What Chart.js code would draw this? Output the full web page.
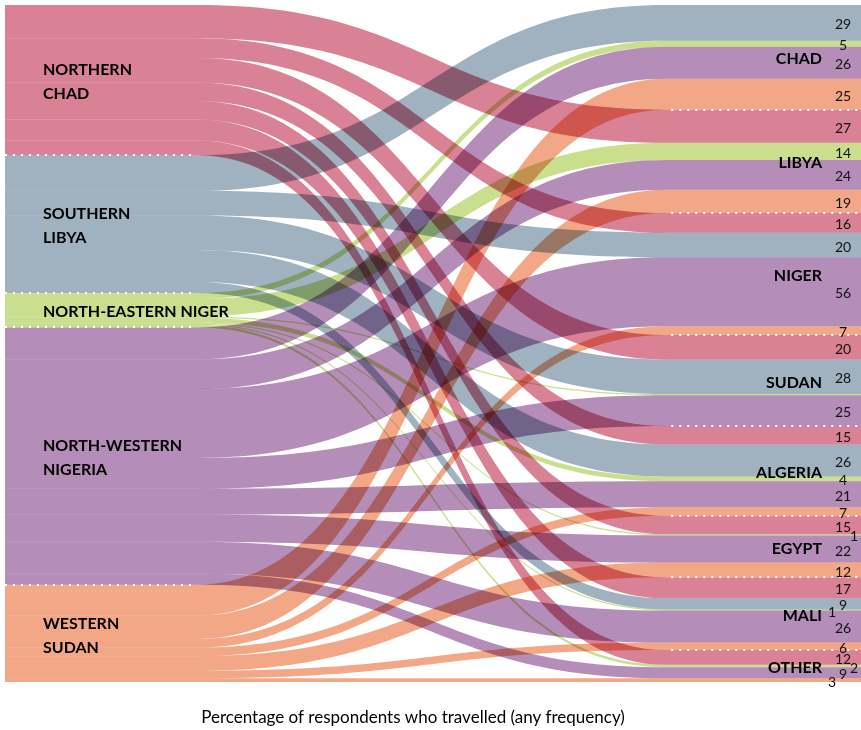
<!DOCTYPE html>
<html><head><meta charset="utf-8">
<script src="https://cdn.jsdelivr.net/npm/chart.js@4"></script>
<style>html,body{margin:0;padding:0;background:#fff}#wrap{width:861px;height:730px}</style>
</head><body><div id="wrap"><canvas id="c" width="861" height="730"></canvas></div>
<script>
// ---- DATA (percentage of respondents from each origin who travelled to each destination) ----
const destinations = ['CHAD', 'LIBYA', 'NIGER', 'SUDAN', 'ALGERIA', 'EGYPT', 'MALI', 'OTHER'];
const sourceLabels = [['NORTHERN', 'CHAD'], ['SOUTHERN', 'LIBYA'], ['NORTH-EASTERN NIGER'], ['NORTH-WESTERN', 'NIGERIA'], ['WESTERN', 'SUDAN']];
//                        CHAD LIBYA NIGER SUDAN ALG EGY MALI OTHER
const northernChad        = [null, 27, 16, 20, 15, 15, 17, 12];
const southernLibya       = [29, null, 20, 28, 26, null, 9, null];
const northEasternNiger   = [5, 14, null, 1, 4, 1, 1, 2];
const northWesternNigeria = [26, 24, 56, 25, 21, 22, 26, 9];
const westernSudan        = [25, 19, 7, null, 7, 12, 6, 3];
const unlabelledFlows = [[2, 3]]; // [source, destination] whose value is not printed
const axisTitle = 'Percentage of respondents who travelled (any frequency)';

const sourceValues = [northernChad, southernLibya, northEasternNiger, northWesternNigeria, westernSudan];
const colors = ['rgb(217,130,149)', 'rgb(160,177,191)', 'rgb(201,223,142)', 'rgb(180,142,184)', 'rgb(242,168,135)'];

const grandTotal = sourceValues.reduce((a, arr) => a + arr.reduce((b, v) => b + (v || 0), 0), 0);

const NODE_L = 0.2243, NODE_R = 0.7725;

const sankeyPlugin = {
  id: 'sankey',
  afterDatasetsDraw(chart) {
    const { ctx } = chart;
    const x = chart.scales.x, y = chart.scales.y;
    const xL0 = x.getPixelForValue(0), xL1 = x.getPixelForValue(NODE_L);
    const xR0 = x.getPixelForValue(NODE_R), xR1 = x.getPixelForValue(1);
    const xm = (xL1 + xR0) / 2;
    const srcStart = []; let acc = 0;
    sourceValues.forEach((arr, s) => { srcStart[s] = acc; acc += arr.reduce((b, v) => b + (v || 0), 0); });
    const dstStart = []; acc = 0;
    destinations.forEach((d, j) => { dstStart[j] = acc; sourceValues.forEach(arr => acc += (arr[j] || 0)); });
    const srcEnd = srcStart.map((v, s) => v + sourceValues[s].reduce((b, w) => b + (w || 0), 0));
    const dstEnd = dstStart.map((v, j) => v + sourceValues.reduce((b, arr) => b + (arr[j] || 0), 0));

    const leftCur = srcStart.slice(), rightCur = dstStart.slice();
    const flowLabels = [];
    ctx.save();
    ctx.globalCompositeOperation = 'multiply';
    sourceValues.forEach((arr, s) => {
      arr.forEach((v, j) => {
        if (!v) return;
        const yl0 = y.getPixelForValue(leftCur[s]), yl1 = y.getPixelForValue(leftCur[s] + v);
        const yr0 = y.getPixelForValue(rightCur[j]), yr1 = y.getPixelForValue(rightCur[j] + v);
        leftCur[s] += v; rightCur[j] += v;
        ctx.beginPath();
        ctx.moveTo(xL0, yl0);
        ctx.lineTo(xL1, yl0);
        ctx.bezierCurveTo(xm, yl0, xm, yr0, xR0, yr0);
        ctx.lineTo(xR1, yr0);
        ctx.lineTo(xR1, yr1);
        ctx.lineTo(xR0, yr1);
        ctx.bezierCurveTo(xm, yr1, xm, yl1, xL1, yl1);
        ctx.lineTo(xL0, yl1);
        ctx.closePath();
        ctx.fillStyle = colors[s];
        ctx.fill();
        const hidden = unlabelledFlows.some(p => p[0] === s && p[1] === j);
        if (!hidden) flowLabels.push({ s, j, v, yc: (yr0 + yr1) / 2 });
      });
    });
    ctx.restore();

    // dotted separators
    ctx.save();
    ctx.strokeStyle = '#fff';
    ctx.lineWidth = 2;
    ctx.setLineDash([2, 6]);
    for (let s = 1; s < srcStart.length; s++) {
      const yy = Math.round(y.getPixelForValue(srcStart[s]));
      ctx.beginPath(); ctx.moveTo(xL0, yy); ctx.lineTo(xL1 - 3, yy); ctx.stroke();
    }
    for (let j = 1; j < dstStart.length; j++) {
      const yy = Math.round(y.getPixelForValue(dstStart[j]));
      ctx.beginPath(); ctx.moveTo(xR0 + 5, yy); ctx.lineTo(xR1, yy); ctx.stroke();
    }
    ctx.restore();

    // labels
    ctx.save();
    ctx.fillStyle = '#000';
    ctx.font = 'bold 16px Lato';
    ctx.textBaseline = 'middle';
    ctx.textAlign = 'left';
    sourceLabels.forEach((lines, s) => {
      const yc = (y.getPixelForValue(srcStart[s]) + y.getPixelForValue(srcEnd[s])) / 2 + 2;
      const lh = 24;
      lines.forEach((t, i) => ctx.fillText(t, xL0 + 38, yc + (i - (lines.length - 1) / 2) * lh));
    });
    ctx.textAlign = 'right';
    destinations.forEach((t, j) => {
      const yc = (y.getPixelForValue(dstStart[j]) + y.getPixelForValue(dstEnd[j])) / 2 + 2;
      ctx.fillText(t, 822, yc);
    });
    ctx.font = '14px Lato';
    ctx.fillStyle = '#111';
    ctx.textAlign = 'center';
    let side = 1;
    flowLabels.forEach(l => {
      let xx = 843;
      if (l.v <= 3) { xx = 843 + side * 11; side = -side; }
      ctx.fillText(String(l.v), xx, l.yc + 2);
    });
    ctx.font = '17px Lato';
    ctx.fillStyle = '#000';
    ctx.fillText(axisTitle, 413, 718);
    ctx.restore();
  }
};

new Chart(document.getElementById('c'), {
  type: 'scatter',
  data: { datasets: [{ data: [], showLine: false }] },
  options: {
    responsive: false,
    animation: false,
    layout: { padding: { top: 5, left: 5, right: 0, bottom: 48 } },
    plugins: { legend: { display: false }, tooltip: { enabled: false } },
    scales: {
      x: { type: 'linear', min: 0, max: 1, display: false },
      y: { type: 'linear', min: 0, max: grandTotal, reverse: true, display: false }
    }
  },
  plugins: [sankeyPlugin]
});
</script>
</body></html>
